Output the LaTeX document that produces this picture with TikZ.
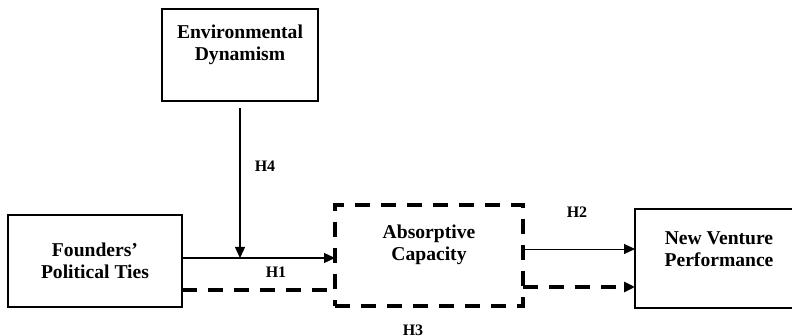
\documentclass[tikz,border=0pt]{standalone}
\usepackage{fontspec}
\setmainfont{Liberation Serif}
\usepackage{tikz}
\usetikzlibrary{arrows.meta,positioning,calc}

\tikzset{
  box/.style={draw, line width=0.8pt, outer sep=0pt, inner sep=0pt},
  dashbox/.style={draw, line width=1.8pt, dash pattern=on 7.5pt off 5.5pt, outer sep=0pt, inner sep=0pt},
  boxtext/.style={align=center, font=\fontsize{9.8}{11}\selectfont\bfseries},
  hyp/.style={font=\fontsize{8}{9}\selectfont\bfseries},
  link/.style={line width=0.6pt, -{Triangle[length=5.5pt,width=5pt]}},
  dashlink/.style={line width=1.8pt, dash pattern=on 7.5pt off 5.5pt}
}

\begin{document}
\begin{tikzpicture}[x=0.5pt,y=-0.5pt]
    \useasboundingbox (0,0) rectangle (792,336);
    \clip (0,0) rectangle (792,336);

    % Moderator
    \node[box, minimum width=78pt, minimum height=46pt] (env) at (240,55) {};
    \node[boxtext] (envtxt) at (240,45) {Environmental\\Dynamism};

    % Independent variable
    \node[box, minimum width=87pt, minimum height=46pt] (ties) at (95,261) {};
    \node[boxtext] (tiestxt) at (95,261) {Founders'\\Political Ties};

    % Mediator
    \node[dashbox, minimum width=94pt, minimum height=50.5pt] (absorb) at (429,255.5) {};
    \node[boxtext] (absorbtxt) at (429,245) {Absorptive\\Capacity};

    % Outcome
    \node[box, minimum width=84pt, minimum height=49.5pt] (nvp) at (719,258.5) {};
    \node[boxtext] (nvptxt) at (719,249) {New Venture\\Performance};

    % Paths
    \coordinate (join) at (240,258);
    \draw[link] (env.south) ++(0,7) -- (join);
    \draw[link] (ties.east |- join) -- (absorb.west |- join);
    \draw[dashlink] ($(ties.east)+(0,29)$) -- ($(absorb.west)+(0,34.5)$);
    \draw[link, line width=0.45pt] ($(absorb.east)+(0,-6.5)$) -- ($(nvp.west)+(0,-9.5)$);
    \draw[dashlink, -{Triangle[length=5.5pt,width=5pt]}] ($(absorb.east)+(0,31.5)$) -- ($(nvp.west)+(0,28.5)$);

    % Hypotheses
    \node[hyp] (h4) at (265,166) {H4};
    \node[hyp] (h1) at (276,272) {H1};
    \node[hyp] (h2) at (577,212) {H2};
    \node[hyp] (h3) at (413,330) {H3};
\end{tikzpicture}
\end{document}
